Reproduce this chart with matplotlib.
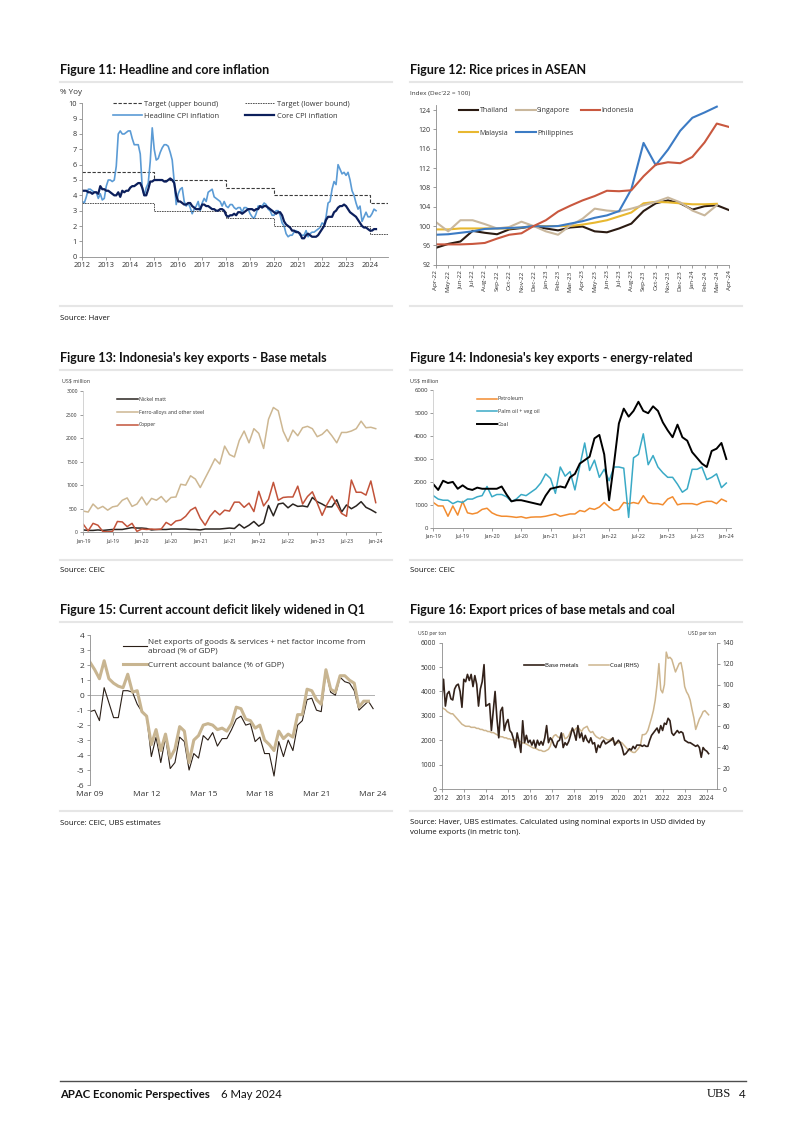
import numpy as np
import matplotlib
matplotlib.use("Agg")
import matplotlib.pyplot as plt
from matplotlib.lines import Line2D
from matplotlib import font_manager

# Schriftkeuze
names = {f.name for f in font_manager.fontManager.ttflist}
COND = 'Liberation Sans Narrow' if 'Liberation Sans Narrow' in names else 'Lato'
BODY = 'Open Sans'
plt.rcParams['font.family'] = [BODY, 'DejaVu Sans']
plt.rcParams['axes.unicode_minus'] = False

# ---------------- data ----------------
# Figure 11 (monthly, Jan-2012 .. Apr-2024)
headline_cpi = [
    3.6, 3.5, 3.9, 4.4, 4.4, 4.3, 4.2, 4.2, 3.8, 4.1, 3.7, 3.8,
    4.6, 5.0, 5.0, 4.9, 5.0, 5.9, 8.0, 8.2, 8.0, 8.0, 8.1, 8.2,
    8.2, 7.7, 7.3, 7.3, 7.3, 6.7, 4.5, 4.0, 4.5, 4.8, 6.2, 8.4,
    7.0, 6.3, 6.4, 6.8, 7.1, 7.3, 7.3, 7.2, 6.8, 6.3, 4.9, 3.4,
    4.1, 4.4, 4.5, 3.6, 3.3, 3.5, 3.2, 2.8, 3.1, 3.3, 3.6, 3.0,
    3.5, 3.8, 3.6, 4.2, 4.3, 4.4, 3.9, 3.8, 3.7, 3.6, 3.3, 3.6,
    3.3, 3.2, 3.4, 3.4, 3.2, 3.1, 3.2, 3.2, 2.9, 3.2, 3.2, 3.1,
    2.8, 2.6, 2.5, 2.8, 3.3, 3.3, 3.3, 3.5, 3.4, 3.1, 3.0, 2.7,
    2.7, 3.0, 3.0, 2.7, 2.2, 2.0, 1.5, 1.3, 1.4, 1.4, 1.6, 1.7,
    1.6, 1.4, 1.4, 1.4, 1.7, 1.3, 1.5, 1.6, 1.6, 1.7, 1.8, 1.9,
    2.2, 2.1, 2.6, 3.5, 3.6, 4.4, 4.9, 4.7, 6.0, 5.7, 5.4, 5.5,
    5.3, 5.5, 5.0, 4.3, 4.0, 3.5, 3.1, 3.3, 2.3, 2.6, 2.9, 2.6,
    2.6, 2.8, 3.1, 3.0]
core_cpi = [
    4.3, 4.3, 4.3, 4.2, 4.2, 4.1, 4.2, 4.2, 4.1, 4.6, 4.4, 4.4,
    4.3, 4.3, 4.2, 4.1, 4.0, 4.0, 4.2, 3.9, 4.3, 4.2, 4.3, 4.3,
    4.5, 4.6, 4.6, 4.7, 4.8, 4.8, 4.5, 4.0, 4.0, 4.4, 4.9, 4.9,
    5.0, 5.0, 5.0, 5.0, 5.0, 4.9, 4.9, 5.0, 5.1, 5.0, 4.8, 4.0,
    3.6, 3.6, 3.5, 3.4, 3.4, 3.5, 3.5, 3.3, 3.2, 3.1, 3.1, 3.1,
    3.4, 3.4, 3.3, 3.3, 3.2, 3.1, 3.1, 3.0, 3.0, 3.1, 3.1, 3.0,
    2.7, 2.6, 2.7, 2.7, 2.8, 2.7, 2.9, 2.9, 2.8, 2.9, 3.0, 3.1,
    3.1, 3.1, 3.0, 3.1, 3.1, 3.3, 3.2, 3.3, 3.3, 3.2, 3.1, 3.0,
    2.9, 2.8, 2.9, 2.9, 2.7, 2.3, 2.1, 2.0, 1.9, 1.7, 1.7, 1.6,
    1.6, 1.5, 1.2, 1.2, 1.4, 1.5, 1.4, 1.3, 1.3, 1.3, 1.4, 1.6,
    1.8, 2.0, 2.4, 2.6, 2.6, 2.6, 2.9, 3.0, 3.2, 3.3, 3.3, 3.4,
    3.3, 3.1, 2.9, 2.8, 2.7, 2.6, 2.4, 2.2, 2.0, 1.9, 1.9, 1.8,
    1.7, 1.7, 1.8, 1.8]
target_years = [2012, 2015, 2018, 2020, 2024, 2025]
target_upper = [5.5, 5.0, 4.5, 4.0, 3.5, 3.5]
target_lower = [3.5, 3.0, 2.5, 2.0, 1.5, 1.5]

# Figure 12 (monthly, Apr-22 .. Apr-24)
rice_months = ['Apr-22', 'May-22', 'Jun-22', 'Jul-22', 'Aug-22', 'Sep-22', 'Oct-22',
               'Nov-22', 'Dec-22', 'Jan-23', 'Feb-23', 'Mar-23', 'Apr-23', 'May-23',
               'Jun-23', 'Jul-23', 'Aug-23', 'Sep-23', 'Oct-23', 'Nov-23', 'Dec-23',
               'Jan-24', 'Feb-24', 'Mar-24', 'Apr-24']
thailand = [95.5, 96.3, 96.8, 99.0, 98.6, 98.3, 99.3, 99.6, 100.0, 99.5, 99.1, 99.7, 99.9,
            98.9, 98.7, 99.5, 100.5, 103.1, 104.7, 105.3, 104.7, 103.4, 104.1, 104.3, 103.3]
singapore = [100.8, 98.9, 101.2, 101.2, 100.4, 99.5, 99.8, 100.9, 100.0, 98.9, 98.2, 100.1,
             101.5, 103.6, 103.2, 103.0, 103.6, 104.3, 105.0, 105.9, 104.9, 103.2, 102.2, 104.3]
indonesia = [96.2, 96.2, 96.2, 96.3, 96.5, 97.4, 98.2, 98.5, 100.0, 101.2, 103.0, 104.2, 105.3,
             106.2, 107.3, 107.2, 107.4, 110.3, 112.7, 113.2, 113.0, 114.3, 117.3, 121.2, 120.5]
malaysia = [99.3, 99.3, 99.5, 99.5, 99.5, 99.5, 99.5, 99.7, 100.0, 100.0, 100.0, 100.0,
            100.3, 100.7, 101.2, 102.0, 102.8, 104.7, 105.0, 104.9, 104.7, 104.5, 104.5, 104.6]
philippines = [98.2, 98.3, 98.6, 98.9, 99.4, 99.5, 99.6, 99.7, 100.0, 99.9, 100.0, 100.5,
               101.0, 101.7, 102.2, 103.1, 107.6, 117.2, 112.6, 115.8, 119.7, 122.4, 123.5, 124.7]

# Figure 13 / 14 (monthly, Jan-19 .. Jan-24)
exp_labels = ['Jan-19', 'Jul-19', 'Jan-20', 'Jul-20', 'Jan-21', 'Jul-21',
              'Jan-22', 'Jul-22', 'Jan-23', 'Jul-23', 'Jan-24']
nickel = [50, 40, 40, 50, 40, 50, 60, 60, 60, 80, 100, 90,
          90, 80, 50, 60, 60, 60, 70, 70, 70, 70, 60, 60,
          50, 70, 70, 70, 70, 80, 90, 80, 170, 90, 150, 230,
          130, 200, 570, 350, 600, 620, 520, 600, 550, 560, 540, 740,
          650, 600, 540, 540, 690, 430, 580, 500, 560, 650, 530, 480, 420]
ferro = [450, 430, 600, 500, 550, 470, 540, 560, 680, 730,
         550, 600, 750, 580, 720, 680, 760, 640, 740, 750,
         1020, 1000, 1200, 1130, 950, 1150, 1350, 1560, 1450, 1830,
         1650, 1600, 1950, 2150, 1900, 2200, 2100, 1780, 2400, 2650,
         2580, 2150, 1930, 2170, 2050, 2220, 2250, 2200, 2030, 2080,
         2180, 2050, 1900, 2120, 2120, 2150, 2200, 2360, 2220, 2230, 2200]
copper = [170, 30, 190, 150, 20, 10, 20, 230, 220, 120, 190, 20,
          70, 60, 70, 60, 70, 210, 150, 240, 260, 340, 470, 530,
          300, 150, 340, 460, 370, 470, 450, 640, 640, 530, 620, 440,
          870, 560, 700, 1060, 680, 740, 750, 750, 980, 600, 760, 860,
          620, 360, 590, 770, 580, 400, 340, 1110, 850, 850, 790, 1090, 630]
petroleum = [1100, 950, 950, 500, 950, 550, 1150, 650, 600, 650, 800, 850,
             650, 550, 500, 500, 480, 450, 480, 420, 460, 470, 470, 500,
             550, 600, 500, 550, 600, 600, 750, 700, 850, 800, 900, 1100,
             900, 750, 800, 1100, 1050, 1100, 1050, 1400, 1100, 1050, 1050, 1000,
             1250, 1350, 1000, 1050, 1050, 1050, 1000, 1100, 1150, 1150, 1050, 1250, 1150]
palm_oil = [1400, 1250, 1200, 1200, 1050, 1150, 1100, 1250, 1250, 1350, 1400, 1800,
            1350, 1450, 1450, 1350, 1150, 1250, 1450, 1400, 1550, 1700, 1950, 2350,
            2150, 1500, 2650, 2250, 2450, 1650, 2700, 3700, 2500, 2950, 2200, 2550,
            2050, 2650, 2650, 2600, 450, 3050, 3200, 4100, 2750, 3150, 2650, 2400,
            2200, 2200, 1900, 1550, 1700, 2550, 2550, 2650, 2100, 2200, 2350, 1750, 1950]
coal_exp = [1900, 1650, 2050, 1950, 2000, 1700, 1850, 1700, 1650, 1750, 1700, 1700,
            1700, 1700, 1800, 1450, 1150, 1200, 1200, 1150, 1100, 1050, 1000, 1400,
            1700, 1750, 1800, 1750, 2200, 2350, 2800, 2950, 3100, 3900, 4050, 3200,
            1200, 2800, 4550, 5200, 4850, 5100, 5500, 5100, 5000, 5300, 5100, 4600,
            4250, 3950, 4500, 3950, 3800, 3300, 3050, 2800, 2650, 3350, 3450, 3700, 3000]

# Figure 15 (quarterly, Mar-09 .. Mar-24)
ca_labels = ['Mar 09', 'Mar 12', 'Mar 15', 'Mar 18', 'Mar 21', 'Mar 24']
net_exports = [-1.1, -1.0, -1.7, 0.5, -0.5, -1.5, -1.5, 0.3, 0.3, 0.2, -0.6, -1.1,
               -1.4, -4.1, -2.8, -4.5, -2.8, -4.9, -4.5, -2.8, -3.1, -5.0, -3.9, -4.2,
               -2.7, -3.0, -2.5, -3.4, -2.9, -2.9, -2.3, -1.6, -1.4, -2.0, -1.9, -3.1,
               -2.8, -3.9, -3.9, -5.4, -3.1, -4.1, -3.0, -3.7, -2.0, -1.7, -0.3, -0.2,
               -1.0, -1.1, 1.6, 0.2, 0.0, 1.2, 0.9, 0.8, 0.3, -1.0, -0.7, -0.4, -0.9]
current_account = [2.2, 1.7, 1.1, 2.3, 1.1, 0.8, 0.6, 0.5, 1.4, 0.2, 0.3, -1.1,
                   -1.4, -3.3, -2.3, -3.7, -2.6, -4.2, -3.6, -2.1, -2.4, -4.5, -3.0, -2.7,
                   -2.0, -1.9, -2.0, -2.3, -2.2, -2.4, -1.9, -0.8, -0.9, -1.6, -1.7, -2.2,
                   -2.0, -3.0, -3.3, -3.7, -2.4, -2.9, -2.6, -2.8, -1.3, -1.3, 0.4, 0.3,
                   -0.3, -0.6, 1.7, 0.4, 0.2, 1.3, 1.3, 1.0, 0.8, -0.8, -0.4, -0.4]

# Figure 16 (monthly, Jan-2012 .. Feb-2024)
base_metals = [
    3700, 4500, 3400, 3900, 4000, 3700, 3650, 4100, 4250, 4300, 4000, 3350,
    4500, 4400, 4700, 4450, 4700, 4200, 4650, 4300, 3400, 4100, 4400, 5100,
    3400, 3450, 3500, 2400, 3200, 4000, 2900, 2100, 3200, 3350, 2400, 2700,
    2850, 2400, 2300, 2050, 1700, 2300, 1950, 1500, 2800, 1900, 2200, 1900,
    2000, 1800, 2000, 1700, 2000, 1800, 1950, 1800, 2100, 2600, 1900, 2100,
    2000, 1800, 1700, 1950, 2000, 2300, 1700, 1900, 1800, 1950, 2200, 2500,
    2300, 2000, 2600, 2100, 2300, 1950, 2200, 2000, 1900, 2100, 1850, 1900,
    1500, 1800, 1700, 1900, 2000, 1850, 1900, 1950, 2000, 2100, 1800, 1900,
    2000, 1900, 1700, 1400, 1450, 1550, 1650, 1600, 1750, 1650, 1800, 1800,
    1800, 1750, 1800, 1750, 1750, 2000, 2200, 2300, 2400, 2500, 2300, 2600,
    2400, 2700, 2650, 2900, 2800, 2300, 2200, 2300, 2400, 2300, 2350, 2300,
    2000, 1950, 1900, 1900, 1850, 1800, 1750, 1800, 1700, 1300, 1700, 1600,
    1550, 1450]
coal_price = [
    78, 77, 76, 74, 73, 72, 72, 70, 68, 66, 64, 62,
    61, 60, 60, 60, 59, 59, 59, 58, 58, 57, 57, 56,
    56, 55, 55, 54, 54, 53, 52, 51, 50, 50, 49, 49,
    48, 48, 47, 47, 47, 46, 46, 45, 44, 44, 43, 42,
    41, 40, 39, 39, 38, 37, 37, 36, 36, 37, 38, 41,
    48, 51, 52, 50, 49, 50, 53, 48, 49, 51, 55, 57,
    56, 58, 59, 57, 55, 58, 59, 60, 56, 54, 55, 52,
    50, 49, 48, 50, 49, 48, 47, 47, 48, 46, 45, 44,
    44, 45, 44, 42, 40, 38, 37, 36, 35, 35, 37, 39,
    42, 52, 52, 53, 56, 62, 68, 75, 85, 100, 120, 95,
    92, 100, 131, 125, 126, 124, 118, 112, 116, 120, 121, 112,
    98, 93, 90, 85, 76, 68, 57, 62, 67, 70, 74, 75,
    73, 71]

# ---------------- layout ----------------
W, H = 802, 1134
fig = plt.figure(figsize=(W / 100, H / 100), dpi=100)
fig.patch.set_facecolor('white')

GREY = '#8c8c8c'
TXT = '#333333'


def add_ax(l, t, r, b):
    return fig.add_axes([l / W, 1 - b / H, (r - l) / W, (b - t) / H])


def ftext(x, y, s, **kw):
    kw.setdefault('va', 'center')
    kw.setdefault('color', '#111111')
    return fig.text(x / W, 1 - y / H, s, **kw)


def hline(x0, x1, y, color='#e6e6e6', lw=1.5):
    fig.add_artist(Line2D([x0 / W, x1 / W], [1 - y / H, 1 - y / H],
                          transform=fig.transFigure, color=color, lw=lw))


def style(ax, size):
    for s in ['top', 'right']:
        ax.spines[s].set_visible(False)
    for s in ['left', 'bottom']:
        ax.spines[s].set_color(GREY)
        ax.spines[s].set_linewidth(0.6)
    ax.tick_params(labelsize=size, colors=GREY, labelcolor=TXT, width=0.6, length=2.5, pad=1.5)
    ax.set_facecolor('none')


def panel(x0, x1, ytitle, ysep_top, ysep_bot, title, ysrc, source):
    ftext(x0, ytitle, title, family=[COND, 'DejaVu Sans'], fontweight='bold', fontsize=9.0)
    hline(x0, x1, ysep_top)
    hline(x0, x1, ysep_bot)
    for i, line in enumerate(source):
        ftext(x0, ysrc + i * 10, line, fontsize=5.6)


def leg(ax, x, y, size, **kw):
    lg = ax.legend(loc='upper left', bbox_to_anchor=(x / W, 1 - y / H),
                   bbox_transform=fig.transFigure, frameon=False, fontsize=size,
                   borderaxespad=0, borderpad=0, **kw)
    for t in lg.get_texts():
        t.set_color(TXT)
    return lg


# panels (titels, scheidingslijnen, bronnen)
panel(60, 392, 70, 82, 306, 'Figure 11: Headline and core inflation', 318, ['Source: Haver'])
panel(410, 742, 70, 82, 306, 'Figure 12: Rice prices in ASEAN', 318, [])
panel(60, 392, 358, 370, 560, "Figure 13: Indonesia's key exports - Base metals", 571, ['Source: CEIC'])
panel(410, 742, 358, 370, 560, "Figure 14: Indonesia's key exports - energy-related", 571, ['Source: CEIC'])
panel(60, 392, 610, 622, 811, 'Figure 15: Current account deficit likely widened in Q1', 823,
      ['Source: CEIC, UBS estimates'])
panel(410, 742, 610, 622, 811, 'Figure 16: Export prices of base metals and coal', 823,
      ['Source: Haver, UBS estimates. Calculated using nominal exports in USD divided by',
       'volume exports (in metric ton).'])

# ---- Figure 11 ----
ax = add_ax(82.3, 103.3, 388, 256.7)
style(ax, 5.3)
t11 = 2012 + np.arange(len(headline_cpi)) / 12
ax.plot(target_years, target_upper, drawstyle='steps-post', color='#3a3a3a', lw=0.8,
        ls=(0, (3, 1.5)), label='Target (upper bound)')
ax.plot(t11, headline_cpi, color='#5b9bd5', lw=1.2, label='Headline CPI inflation')
ax.plot(target_years, target_lower, drawstyle='steps-post', color='#3a3a3a', lw=0.6,
        ls=(0, (2, 1)), label='Target (lower bound)')
ax.plot(t11, core_cpi, color='#0c1f5c', lw=1.6, label='Core CPI inflation')
ax.set_xlim(2012, 2024.75)
ax.set_ylim(0, 10)
ax.set_yticks(range(0, 11))
ax.set_xticks(range(2012, 2025))
leg(ax, 113, 100.5, 5.4, ncol=2, handlelength=3.8, columnspacing=3.4, handletextpad=0.4,
    labelspacing=0.6)
ftext(60, 93, '% Yoy', fontsize=5.8, color=TXT)

# ---- Figure 12 ----
ax = add_ax(436, 105.2, 729, 264.7)
style(ax, 5.0)
xr = np.arange(len(rice_months))
ax.plot(xr, thailand, color='#2b1b12', lw=1.5, label='Thailand')
ax.plot(xr[:len(malaysia)], malaysia, color='#e8b830', lw=1.5, label='Malaysia')
ax.plot(xr[:len(singapore)], singapore, color='#c9b79c', lw=1.5, label='Singapore')
ax.plot(xr[:len(philippines)], philippines, color='#3c7bc4', lw=1.5, label='Philippines')
ax.plot(xr, indonesia, color='#c9583f', lw=1.5, label='Indonesia')
ax.set_xlim(0, len(rice_months) - 1)
ax.set_ylim(92, 125)
ax.set_yticks(range(92, 125, 4))
ax.set_xticks(xr)
ax.set_xticklabels(rice_months, rotation=90, fontsize=4.6)
leg(ax, 459, 107.5, 5.0, ncol=3, handlelength=2.8, columnspacing=1.1, handletextpad=0.2,
    labelspacing=2.2)
ftext(410, 93, "Index (Dec'22 = 100)", fontsize=4.6, color=TXT)

# ---- Figure 13 ----
ax = add_ax(83.3, 391, 380.6, 532.3)
style(ax, 3.6)
ax.spines['left'].set_color('#cccccc')
xe = np.arange(len(ferro))
ax.plot(xe, nickel, color='#2a2420', lw=1.1, label='Nickel matt')
ax.plot(xe, ferro, color='#cdb792', lw=1.1, label='Ferro-alloys and other steel')
ax.plot(xe, copper, color='#c2533a', lw=1.1, label='Copper')
ax.set_xlim(0, 61)
ax.set_ylim(0, 3000)
ax.set_yticks(range(0, 3001, 500))
ax.set_xticks(range(0, 61, 6))
ax.set_xticklabels(exp_labels)
leg(ax, 117, 397, 3.7, handlelength=4.0, handletextpad=0.2, labelspacing=1.5)
ftext(62, 381, 'US$ million', fontsize=3.8, color=TXT)

# ---- Figure 14 ----
ax = add_ax(433.3, 390.3, 731.2, 527.7)
style(ax, 4.3)
ax.spines['left'].set_color('#cccccc')
ax.plot(xe, petroleum, color='#f28c30', lw=1.1, label='Petroleum')
ax.plot(xe, palm_oil, color='#3aaac6', lw=1.1, label='Palm oil + veg oil')
ax.plot(xe, coal_exp, color='black', lw=1.4, label='Coal')
ax.set_xlim(0, 61)
ax.set_ylim(0, 6000)
ax.set_yticks(range(0, 6001, 1000))
ax.set_xticks(range(0, 61, 6))
ax.set_xticklabels(exp_labels, fontsize=3.9)
leg(ax, 477, 396.5, 3.9, handlelength=3.6, handletextpad=0.2, labelspacing=1.4)
ftext(410, 381, 'US$ million', fontsize=3.9, color=TXT)

# ---- Figure 15 ----
ax = add_ax(90, 635.3, 375, 785)
style(ax, 6.0)
ax.spines['bottom'].set_visible(False)
xq = np.arange(len(net_exports))
ax.axhline(0, color='#b0b0b0', lw=0.7)
ax.plot(xq, net_exports, color='#2a1e16', lw=0.8,
        label='Net exports of goods & services + net factor income from\nabroad (% of GDP)')
ax.plot(xq[:len(current_account)], current_account, color='#c8b591', lw=2.2,
        label='Current account balance (% of GDP)')
ax.set_xlim(0, 60.4)
ax.set_ylim(-6, 4)
ax.set_yticks(range(-6, 5))
ax.set_xticks(range(0, 61, 12))
ax.set_xticklabels(ca_labels)
ax.tick_params(axis='x', length=0, pad=4)
lg15 = leg(ax, 123, 638.5, 5.9, handlelength=2.9, handletextpad=0.1, labelspacing=0.8)
for t in lg15.get_texts():
    t.set_linespacing(1.35)

# ---- Figure 16 ----
ax = add_ax(441.7, 642.7, 716.7, 789)
style(ax, 4.8)
t16 = 2012 + np.arange(len(base_metals)) / 12
ax.plot(t16, base_metals, color='#33221a', lw=1.2, label='Base metals')
ax2 = ax.twinx()
ax2.plot(t16[:len(coal_price)], coal_price, color='#cdb58e', lw=1.1, label='Coal (RHS)')
ax.set_zorder(ax2.get_zorder() + 1)
ax.patch.set_visible(False)
for s in ['top', 'left']:
    ax2.spines[s].set_visible(False)
ax2.spines['right'].set_color(GREY)
ax2.spines['right'].set_linewidth(0.6)
ax2.spines['bottom'].set_visible(False)
ax2.tick_params(labelsize=4.8, colors=GREY, labelcolor=TXT, width=0.6, length=2.5, pad=1.5)
ax.set_xlim(2012, 2024.45)
ax.set_ylim(0, 6000)
ax2.set_ylim(0, 140)
ax.set_yticks(range(0, 6001, 1000))
ax2.set_yticks(range(0, 141, 20))
ax.set_xticks(range(2012, 2025))
h1, l1 = ax.get_legend_handles_labels()
h2, l2 = ax2.get_legend_handles_labels()
lg = ax.legend(h1 + h2, l1 + l2, loc='upper left', bbox_to_anchor=(524 / W, 1 - 663 / H),
               bbox_transform=fig.transFigure, frameon=False, fontsize=4.3, ncol=2,
               handlelength=3.4, handletextpad=0.1, columnspacing=1.8, borderaxespad=0, borderpad=0)
ftext(418, 633, 'USD per ton', fontsize=3.6, color=TXT)
ftext(716, 633, 'USD per ton', fontsize=3.6, color=TXT, ha='right')

# ---- footer ----
hline(60, 746, 1081, color='#4d4d4d', lw=1.0)
ftext(60, 1094, 'APAC Economic Perspectives', family=[COND, 'DejaVu Sans'],
      fontweight='bold', fontsize=8.2)
ftext(221, 1094, '6 May 2024', family=[COND, 'DejaVu Sans'], fontsize=8.2)
ftext(731, 1094, 'UBS', family=['Liberation Serif', 'DejaVu Serif'], fontsize=9.0, ha='right')
ftext(746, 1094, '4', family=[COND, 'DejaVu Sans'], fontsize=8.5, ha='right')

fig.savefig('out.png', dpi=100, facecolor='white')
